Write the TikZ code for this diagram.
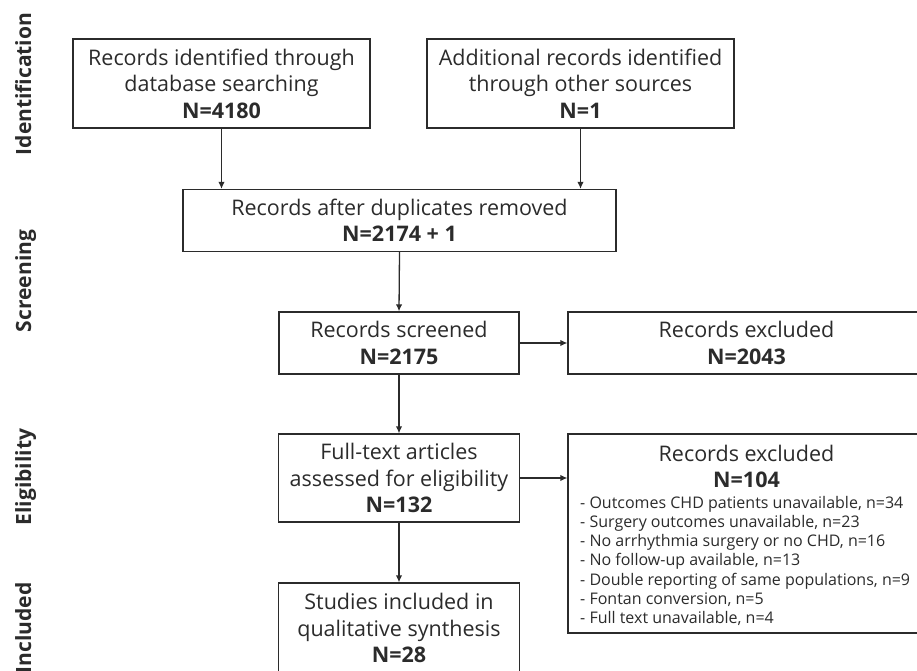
\documentclass[tikz,border=0pt]{standalone}
\usepackage{fontspec}
\setmainfont{Open Sans}
\usetikzlibrary{arrows.meta}
\definecolor{ink}{HTML}{2B2B2B}
\newcommand\boxfont{\fontsize{21.5}{26.5}\selectfont}
\newcommand\listfont{\fontsize{16}{19.2}\selectfont}
\newcommand\phasefont{\fontsize{21}{25}\selectfont\bfseries}
\begin{document}
\begin{tikzpicture}[x=1pt,y=-1pt,
  box/.style={draw=ink, line width=1.3pt, inner sep=0pt, align=center, text=ink, font=\boxfont},
  txt/.style={inner sep=0pt, text=ink},
  arr/.style={draw=ink, line width=1.3pt, -{Latex[length=7pt,width=6.5pt]}},
  phase/.style={rotate=90, font=\phasefont, text=ink, anchor=base, inner sep=0pt}]
\useasboundingbox (0,0) rectangle (917,671);
\clip (0,0) rectangle (917,671);
% phase labels
\node[phase] (p1) at (31,84) {Identification};
\node[phase] (p2) at (31,281) {Screening};
\node[phase] (p3) at (31,477) {Eligibility};
\node[phase] (p4) at (31,628) {Included};
% boxes
\node[box, minimum width=297pt, minimum height=89pt] (A) at (221.5,83.5)
  {Records identified through\\database searching\\\textbf{N=4180}};
\node[box, minimum width=307pt, minimum height=89pt] (B) at (580.5,83.5)
  {Additional records identified\\through other sources\\\textbf{N=1}};
\node[box, minimum width=433pt, minimum height=62pt] (C) at (399.5,220.5)
  {Records after duplicates removed\\\textbf{N=2174 + 1}};
\node[box, minimum width=240pt, minimum height=62pt] (D) at (399,343)
  {Records screened\\\textbf{N=2175}};
\node[box, minimum width=357pt, minimum height=62pt] (E) at (746.5,343)
  {Records excluded\\\textbf{N=2043}};
\node[box, minimum width=241pt, minimum height=88pt] (F) at (399,478)
  {Full-text articles\\assessed for eligibility\\\textbf{N=132}};
\node[box, minimum width=241pt, minimum height=90pt] (G) at (399,628)
  {Studies included in\\qualitative synthesis\\\textbf{N=28}};
\node[box, minimum width=357pt, minimum height=199pt] (H) at (746.5,533.5) {};
\node[txt, align=center, font=\boxfont] (Ht) at (746.5,466.5)
  {Records excluded\\\textbf{N=104}};
\node[txt, align=left, font=\listfont, anchor=north west] (Hl) at (580,496)
  {- Outcomes CHD patients unavailable, n=34\\
   - Surgery outcomes unavailable, n=23\\
   - No arrhythmia surgery or no CHD, n=16\\
   - No follow-up available, n=13\\
   - Double reporting of same populations, n=9\\
   - Fontan conversion, n=5\\
   - Full text unavailable, n=4};
% connectors
\draw[arr] (A.south) -- (A.south |- C.north);
\draw[arr] (B.south) -- (B.south |- C.north);
\draw[arr] (C.south) -- (D.north);
\draw[arr] (D.east) -- (E.west);
\draw[arr] (D.south) -- (F.north);
\draw[arr] (F.east) -- (F.east -| H.west);
\draw[arr] (F.south) -- (G.north);
\end{tikzpicture}
\end{document}
